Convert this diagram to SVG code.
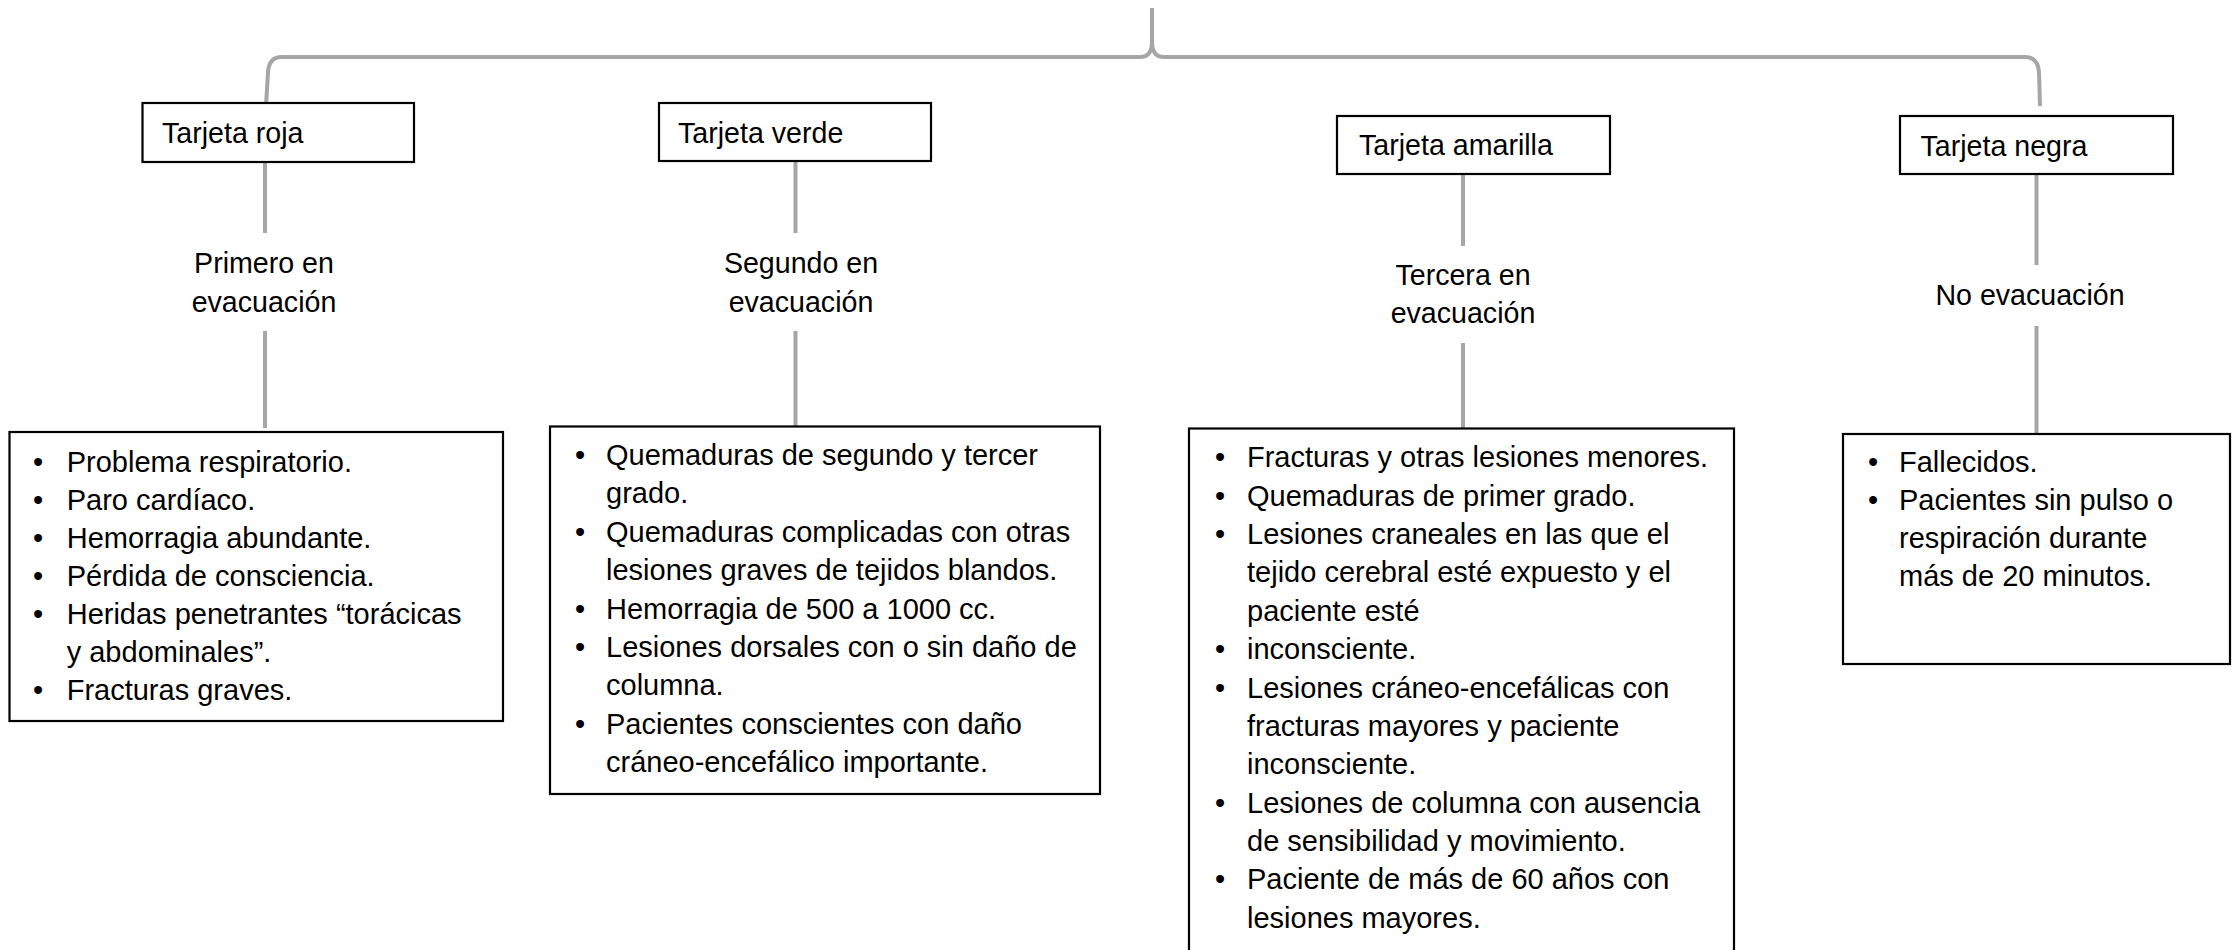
<svg xmlns="http://www.w3.org/2000/svg" width="2234" height="950" viewBox="0 0 2234 950">
<style>
  .box{fill:#fff;stroke:#000;stroke-width:2.2}
  .con{fill:none;stroke:#a6a6a6;stroke-width:4}
  .h{font-family:"Liberation Sans",Arial,sans-serif;font-size:28.6px;fill:#000}
  .lbl{font-family:"Liberation Sans",Arial,sans-serif;font-size:28.6px;fill:#000;text-anchor:middle}
  .li{font-family:"Liberation Sans",Arial,sans-serif;font-size:29px;fill:#000}
</style>
<rect width="2234" height="950" fill="#fff"/>
<g id="connectors">
  <path class="con" d="M1152,8 L1152,42 Q1152,57 1140,57 L282,57 Q269,57 268,72 L266,106"/>
  <path class="con" d="M1152,42 Q1152,57 1164,57 L2025,57 Q2038,57 2039,72 L2040,106"/>
  <line class="con" x1="265" y1="162" x2="265" y2="233"/>
  <line class="con" x1="265" y1="331" x2="265" y2="428"/>
  <line class="con" x1="795.5" y1="161" x2="795.5" y2="233"/>
  <line class="con" x1="795.5" y1="331" x2="795.5" y2="427"/>
  <line class="con" x1="1463" y1="163" x2="1463" y2="246"/>
  <line class="con" x1="1463" y1="343" x2="1463" y2="429"/>
  <line class="con" x1="2036.5" y1="174" x2="2036.5" y2="265"/>
  <line class="con" x1="2036.5" y1="326" x2="2036.5" y2="440"/>
</g>
<g id="roja">
  <rect class="box" x="142.5" y="103" width="271.5" height="59"/>
  <text class="h" x="162" y="143">Tarjeta roja</text>
</g>
<g id="verde">
  <rect class="box" x="659" y="103" width="272" height="58"/>
  <text class="h" x="678" y="143">Tarjeta verde</text>
</g>
<g id="amarilla">
  <rect class="box" x="1337" y="116" width="273" height="58"/>
  <text class="h" x="1359" y="155">Tarjeta amarilla</text>
</g>
<g id="negra">
  <rect class="box" x="1900" y="116" width="273" height="58"/>
  <text class="h" x="1920.5" y="155.5">Tarjeta negra</text>
</g>
<g id="label-roja">
  <text class="lbl" x="264" y="273">Primero en</text>
  <text class="lbl" x="264" y="312">evacuación</text>
</g>
<g id="label-verde">
  <text class="lbl" x="801" y="273">Segundo en</text>
  <text class="lbl" x="801" y="312">evacuación</text>
</g>
<g id="label-amarilla">
  <text class="lbl" x="1463" y="285">Tercera en</text>
  <text class="lbl" x="1463" y="323">evacuación</text>
</g>
<g id="label-negra">
  <text class="lbl" x="2030" y="305">No evacuación</text>
</g>
<g id="lista-roja">
  <rect class="box" x="9.5" y="432" width="493.5" height="289"/>
  <g class="li">
    <text x="33" y="471.5">•</text><text x="66.7" y="471.5">Problema respiratorio.</text>
    <text x="33" y="509.5">•</text><text x="66.7" y="509.5">Paro cardíaco.</text>
    <text x="33" y="547.5">•</text><text x="66.7" y="547.5">Hemorragia abundante.</text>
    <text x="33" y="585.5">•</text><text x="66.7" y="585.5">Pérdida de consciencia.</text>
    <text x="33" y="623.5">•</text><text x="66.7" y="623.5">Heridas penetrantes “torácicas</text>
    <text x="66.7" y="661.5">y abdominales”.</text>
    <text x="33" y="699.5">•</text><text x="66.7" y="699.5">Fracturas graves.</text>
  </g>
</g>
<g id="lista-verde">
  <rect class="box" x="550" y="426.5" width="550" height="367.5"/>
  <g class="li">
    <text x="575" y="465">•</text><text x="606" y="465">Quemaduras de segundo y tercer</text>
    <text x="606" y="503.4">grado.</text>
    <text x="575" y="541.8">•</text><text x="606" y="541.8">Quemaduras complicadas con otras</text>
    <text x="606" y="580.2">lesiones graves de tejidos blandos.</text>
    <text x="575" y="618.6">•</text><text x="606" y="618.6">Hemorragia de 500 a 1000 cc.</text>
    <text x="575" y="657">•</text><text x="606" y="657">Lesiones dorsales con o sin daño de</text>
    <text x="606" y="695.4">columna.</text>
    <text x="575" y="733.8">•</text><text x="606" y="733.8">Pacientes conscientes con daño</text>
    <text x="606" y="772.2">cráneo-encefálico importante.</text>
  </g>
</g>
<g id="lista-amarilla">
  <rect class="box" x="1189" y="428.5" width="545" height="530"/>
  <g class="li">
    <text x="1215" y="467.3">•</text><text x="1247" y="467.3">Fracturas y otras lesiones menores.</text>
    <text x="1215" y="505.7">•</text><text x="1247" y="505.7">Quemaduras de primer grado.</text>
    <text x="1215" y="544">•</text><text x="1247" y="544">Lesiones craneales en las que el</text>
    <text x="1247" y="582.4">tejido cerebral esté expuesto y el</text>
    <text x="1247" y="620.8">paciente esté</text>
    <text x="1215" y="659.2">•</text><text x="1247" y="659.2">inconsciente.</text>
    <text x="1215" y="697.5">•</text><text x="1247" y="697.5">Lesiones cráneo-encefálicas con</text>
    <text x="1247" y="735.9">fracturas mayores y paciente</text>
    <text x="1247" y="774.3">inconsciente.</text>
    <text x="1215" y="812.6">•</text><text x="1247" y="812.6">Lesiones de columna con ausencia</text>
    <text x="1247" y="851">de sensibilidad y movimiento.</text>
    <text x="1215" y="889.4">•</text><text x="1247" y="889.4">Paciente de más de 60 años con</text>
    <text x="1247" y="927.7">lesiones mayores.</text>
  </g>
</g>
<g id="lista-negra">
  <rect class="box" x="1843" y="434" width="387" height="230"/>
  <g class="li">
    <text x="1868" y="472">•</text><text x="1899" y="472">Fallecidos.</text>
    <text x="1868" y="510">•</text><text x="1899" y="510">Pacientes sin pulso o</text>
    <text x="1899" y="548">respiración durante</text>
    <text x="1899" y="586">más de 20 minutos.</text>
  </g>
</g>
</svg>
